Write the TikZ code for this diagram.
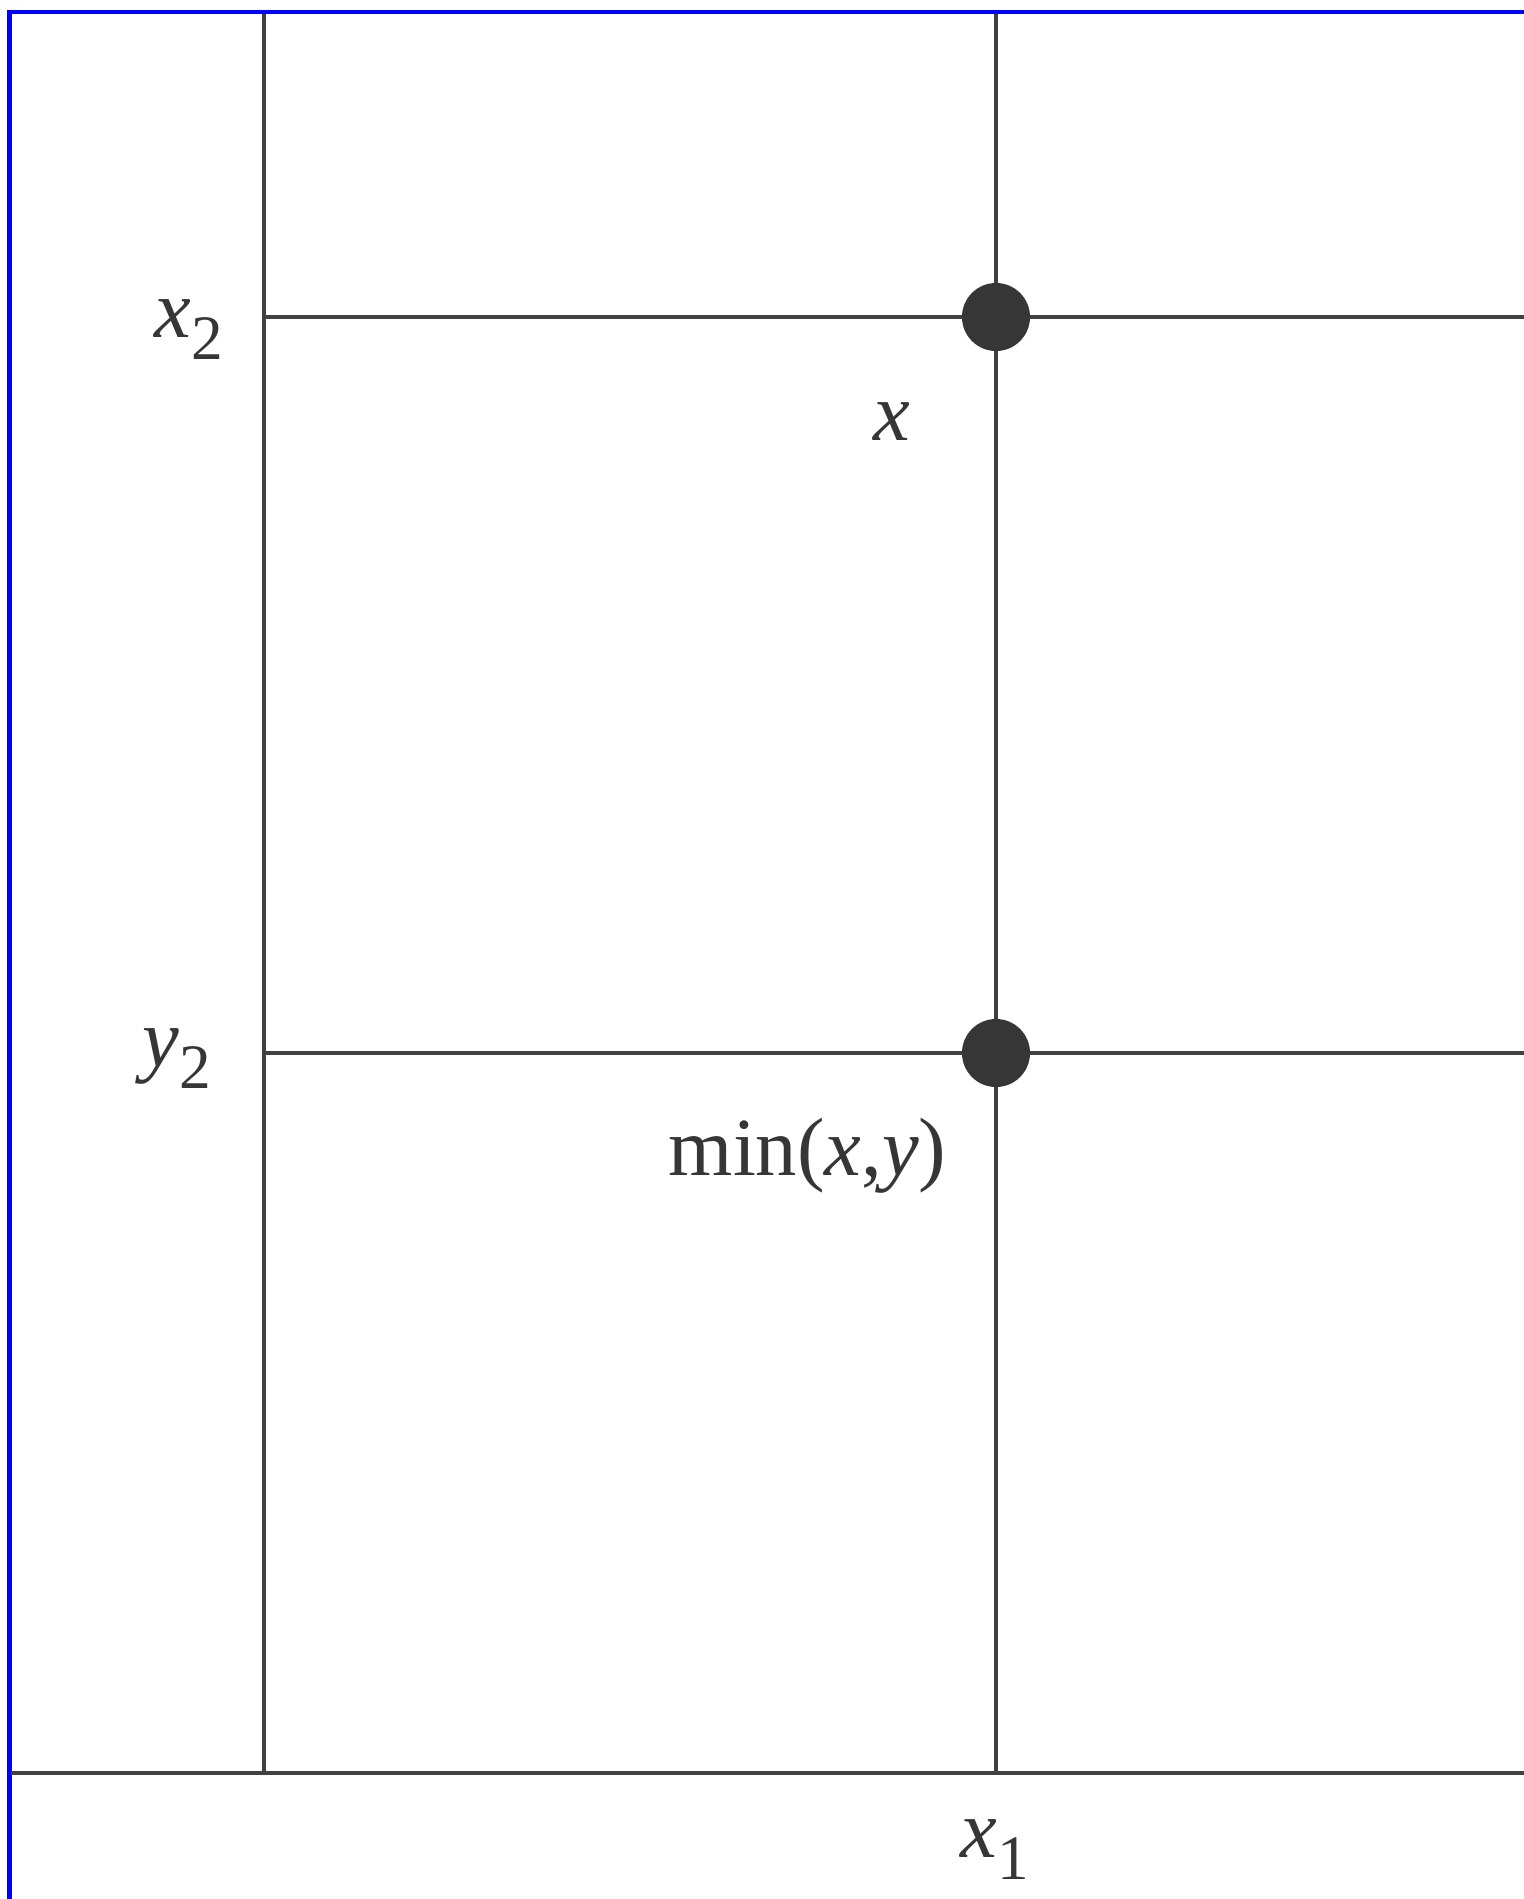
\documentclass[tikz,border=0pt]{standalone}
\usepackage{fontspec}
\setmainfont{Liberation Serif}
\usepackage{tikz}
\usetikzlibrary{positioning}
\definecolor{lineas}{RGB}{64,64,64}
\definecolor{punto} {RGB}{54,54,54}
\definecolor{marco} {RGB}{0,0,255}
\newcommand{\var}[2]{\textit{#1}\raisebox{-0.6ex}{\fontsize{18}{20}\selectfont #2}}

\begin{document}
\begin{tikzpicture}[x=0.01cm,y=-0.01cm,
    linea/.style={lineas,line width=1.15pt},
    punto/.style={circle,fill=punto,inner sep=0pt,minimum size=0.68cm},
    etiq/.style={text=lineas!85!black,inner sep=0pt,anchor=base west,font=\fontsize{23.5}{28}\selectfont}]
\useasboundingbox (0,0) rectangle (1524,1899);
\draw[marco,line width=1.15pt] (1524,12) -- (9.5,12) -- (9.5,1899);
% extremos de las rectas
\coordinate (iz1) at (264,14);   \coordinate (iz2) at (264,1773);
\coordinate (ce1) at (996,14);   \coordinate (ce2) at (996,1773);
\coordinate (h1)  at (264,317);  \coordinate (h1d) at (1524,317);
\coordinate (h2)  at (264,1053); \coordinate (h2d) at (1524,1053);
\coordinate (ej0) at (11,1773);  \coordinate (ej1) at (1524,1773);
\draw[linea] (iz1) -- (iz2);
\draw[linea] (ce1) -- (ce2);
\draw[linea] (h1) -- (h1d);
\draw[linea] (h2) -- (h2d);
\draw[linea] (ej0) -- (ej1);
% puntos
\node[punto] (px) at (996,317) {};
\node[punto] (pm) at (996,1053) {};
% etiquetas
\node[etiq] (lx2) at (154,337) {\var{x}{2}};
\node[etiq] (ly2) at (142,1066) {\var{y}{2}};
\node[etiq] (lx)  at (873,440) {\textit{x}};
\node[etiq] (lmin) at (668,1175) {min(\textit{x},\textit{y})};
\node[etiq] (lx1) at (960,1857) {\var{x}{1}};
\end{tikzpicture}
\end{document}
